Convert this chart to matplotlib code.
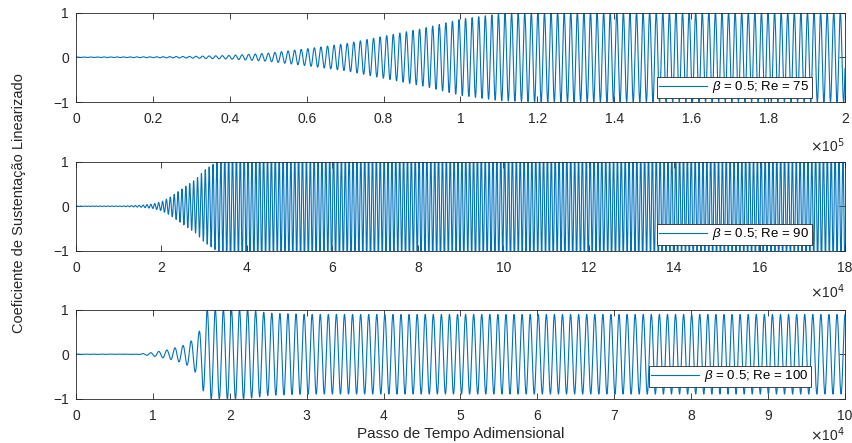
import numpy as np
import matplotlib
matplotlib.use("Agg")
import matplotlib.pyplot as plt
from matplotlib.ticker import FuncFormatter

plt.rcParams['font.family'] = ['Liberation Sans', 'DejaVu Sans']
plt.rcParams['mathtext.fontset'] = 'custom'
plt.rcParams['mathtext.it'] = 'Liberation Sans:italic'

# Re = 75 : envelope of the oscillation (passo, amplitude) and period
t75 = [0, 20000, 30000, 40000, 50000, 60000, 70000, 80000, 90000, 100000, 110000, 120000, 200000]
a75 = [0.004, 0.01, 0.02, 0.04, 0.09, 0.19, 0.30, 0.47, 0.64, 0.85, 0.97, 1.0, 1.0]
per75 = 1710
xmax75 = 200000

# Re = 90
t90 = [0, 10000, 15000, 18000, 20000, 22000, 25000, 28000, 30000, 33000, 35000, 180000]
a90 = [0.004, 0.005, 0.02, 0.05, 0.1, 0.2, 0.4, 0.6, 0.8, 1.0, 1.25, 1.25]
per90 = 910
xmax90 = 180000

# Re = 100
t100 = [0, 8000, 9000, 10000, 11000, 12000, 13000, 14000, 15000, 16000, 16500, 17000, 22000, 24000, 25000, 30000, 100000]
a100 = [0.003, 0.003, 0.02, 0.04, 0.07, 0.1, 0.15, 0.2, 0.3, 0.5, 0.8, 1.0, 1.0, 0.95, 0.92, 0.89, 0.89]
per100 = 1050
xmax100 = 100000

labels = [r'$\beta$ = 0.5; Re = 75', r'$\beta$ = 0.5; Re = 90', r'$\beta$ = 0.5; Re = 100']
xticks = [np.arange(0, 2.01e5, 0.2e5), np.arange(0, 18.01e4, 2e4), np.arange(0, 10.01e4, 1e4)]
scales = [1e5, 1e4, 1e4]
exps = ['5', '4', '4']

series = [(t75, a75, per75, xmax75), (t90, a90, per90, xmax90), (t100, a100, per100, xmax100)]

fig = plt.figure(figsize=(8.53, 4.43), dpi=100)
lefts = 76 / 853
width = (845 - 76) / 853
bottoms = [1 - 102 / 443, 1 - 251 / 443, 1 - 399 / 443]
height = 89.5 / 443
leg_anchor = [(0.957, 0.045), (0.957, 0.067), (0.956, 0.133)]
mult_y = [-0.56, -0.52, -0.47]

dark = '#262626'
for i in range(3):
    ax = fig.add_axes([lefts, bottoms[i], width, height])
    tk, ak, per, xmax = series[i]
    x = np.linspace(0, xmax, 40000)
    env = np.interp(x, tk, ak)
    y = env * np.sin(2 * np.pi * x / per)
    ax.plot(x, y, color='#0072BD', lw=0.8, label=labels[i])
    ax.set_xlim(0, xmax)
    ax.set_ylim(-1, 1)
    ax.set_yticks([-1, 0, 1])
    ax.set_xticks(xticks[i])
    s = scales[i]
    ax.xaxis.set_major_formatter(FuncFormatter(lambda v, p, s=s: '%g' % round(v / s, 6)))
    ax.tick_params(direction='in', top=True, right=True, length=4, width=0.6,
                   labelsize=10, colors=dark)
    ax.tick_params(axis='x', pad=7)
    ax.tick_params(axis='y', pad=5)
    for sp in ax.spines.values():
        sp.set_linewidth(0.6)
        sp.set_color(dark)
    ax.text(1.0, mult_y[i], r'$\times$10$^{%s}$' % exps[i], transform=ax.transAxes,
            ha='right', va='baseline', fontsize=10, color=dark)
    leg = ax.legend(loc='lower right', bbox_to_anchor=leg_anchor[i], borderaxespad=0,
                    fancybox=False, framealpha=1, edgecolor=dark, handlelength=3.6,
                    fontsize=9.5, borderpad=0.2, handletextpad=0.4)
    leg.get_frame().set_linewidth(0.6)
    if i == 2:
        ax.set_xlabel('Passo de Tempo Adimensional', fontsize=11, color=dark, labelpad=3)

fig.text(0.022, 0.542, 'Coeficiente de Sustentação Linearizado', rotation=90,
         ha='center', va='center', fontsize=10.5, color=dark)

fig.savefig('out.png', dpi=100)
